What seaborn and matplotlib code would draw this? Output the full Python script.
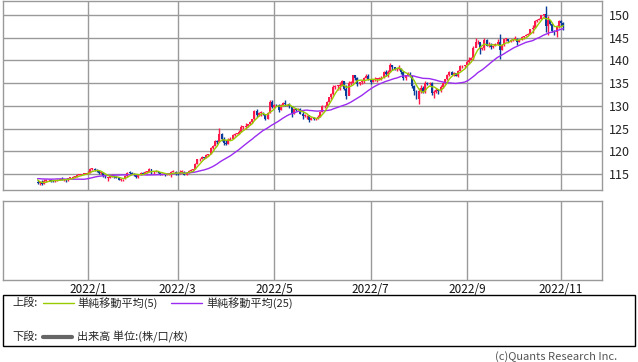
import numpy as np
import pandas as pd
import matplotlib
matplotlib.use("Agg")
import matplotlib.pyplot as plt
import seaborn as sns
from matplotlib.lines import Line2D
from matplotlib.patches import Rectangle

# closes before the window (only used for the moving averages)
pre_close = [113.6, 114.0, 114.0, 113.9, 114.1, 113.7, 113.4, 112.9, 112.8, 113.9,
             114.1, 113.9, 114.1, 114.8, 114.1, 114.3, 114.0, 114.9, 115.1, 115.4,
             115.4, 113.4, 113.6, 113.2]

# daily closes from 2021/12/1 (weekdays)
close = [
    # Dec (23)
    113.0, 113.2, 112.8, 113.5, 113.6, 113.7, 113.5, 113.4, 113.5, 113.7, 114.0, 113.7,
    113.7, 113.6, 114.1, 114.2, 114.4, 114.4, 114.8, 114.8, 115.0, 115.1, 115.1,
    # Jan (21)
    115.3, 116.1, 116.1, 115.8, 115.6, 115.2, 115.3, 114.6, 114.2, 114.2, 114.6,
    114.6, 114.3, 114.2, 113.7, 113.9, 113.9, 114.6, 115.3, 115.2, 115.1,
    # Feb (20)
    114.7, 114.4, 114.9, 115.2, 115.1, 115.5, 115.5, 116.0, 115.4, 115.6,
    115.6, 115.4, 114.9, 115.0, 114.8, 115.0, 115.0, 115.5, 115.5, 115.0,
    # Mar (23)
    114.9, 115.5, 115.5, 114.8, 115.3, 115.7, 115.9, 116.1, 117.3, 118.2, 118.3, 118.7,
    118.6, 119.2, 119.4, 120.8, 121.2, 122.3, 122.0, 123.8, 122.8, 121.8, 121.7,
    # Apr (21)
    122.5, 122.8, 123.6, 123.8, 123.9, 124.3, 125.4, 125.4, 125.6, 125.9, 126.4,
    127.0, 128.9, 127.9, 128.4, 128.5, 128.1, 127.2, 128.4, 130.8, 129.8,
    # May (22)
    130.2, 130.1, 129.1, 130.2, 130.6, 130.3, 130.4, 129.9, 128.3, 129.2, 129.1,
    129.4, 128.3, 127.8, 127.9, 127.9, 126.9, 127.3, 127.1, 127.1, 127.6, 128.7,
    # Jun (22)
    129.9, 129.9, 130.9, 131.9, 132.6, 134.2, 134.4, 134.4, 134.4, 135.5, 133.8,
    132.2, 135.0, 135.1, 136.7, 136.2, 134.9, 135.2, 135.4, 136.1, 136.6, 135.7,
    # Jul (21)
    135.2, 135.7, 135.9, 135.9, 136.0, 136.1, 137.4, 137.0, 137.4, 138.9, 138.5,
    138.2, 138.2, 138.2, 137.4, 136.1, 136.7, 137.0, 136.5, 134.3, 133.2,
    # Aug (23)
    131.6, 133.2, 133.9, 133.0, 135.0, 134.9, 135.1, 132.9, 133.0, 133.5, 133.3, 134.2,
    135.0, 135.9, 136.9, 137.5, 136.8, 137.2, 136.6, 137.6, 138.7, 138.7, 138.9,
    # Sep (22)
    139.7, 140.2, 140.5, 142.8, 144.0, 144.1, 142.6, 142.8, 144.6, 143.2, 143.5,
    142.9, 143.2, 143.7, 144.1, 142.4, 143.3, 144.7, 144.8, 144.2, 144.4, 144.7,
    # Oct (21)
    144.8, 144.1, 144.6, 145.1, 145.3, 145.7, 145.9, 146.9, 147.2, 148.7, 149.0,
    149.2, 149.9, 150.2, 147.6, 149.0, 148.0, 146.4, 146.3, 147.5, 148.7,
    # Nov (2)
    148.2, 147.6,
]

high = [
    113.6, 113.4, 113.6, 113.8, 113.9, 113.9, 113.8, 113.6, 113.7, 113.9, 114.2, 114.3,
    113.9, 113.8, 114.2, 114.3, 114.5, 114.5, 114.9, 114.9, 115.0, 115.2, 115.2,
    115.6, 116.3, 116.3, 116.3, 116.1, 115.8, 115.7, 115.4, 114.8, 114.4, 114.7,
    115.1, 114.8, 114.5, 114.3, 114.0, 114.0, 114.8, 115.5, 115.6, 115.4,
    115.2, 114.8, 115.0, 115.4, 115.4, 115.7, 115.6, 116.3, 116.0, 115.7,
    115.8, 115.7, 115.4, 115.2, 115.1, 115.2, 115.2, 115.7, 115.8, 115.6,
    115.2, 115.8, 115.8, 115.6, 115.5, 115.8, 116.0, 116.2, 117.4, 118.4, 118.5, 118.9,
    118.8, 119.4, 119.5, 121.0, 121.4, 122.4, 122.4, 125.1, 124.0, 123.2, 122.4,
    122.9, 123.1, 123.7, 124.0, 124.1, 124.6, 125.8, 125.6, 126.3, 126.0, 126.6,
    127.1, 129.0, 129.4, 128.7, 128.9, 128.6, 128.2, 128.6, 131.2, 131.3,
    130.5, 130.4, 130.4, 130.4, 130.8, 131.3, 130.5, 130.6, 130.0, 129.4, 129.6,
    129.5, 129.5, 128.9, 128.2, 128.0, 127.9, 127.5, 127.6, 127.4, 127.9, 128.8,
    130.1, 130.2, 131.0, 132.0, 132.9, 134.5, 134.6, 134.6, 135.2, 135.6, 135.5,
    134.7, 135.4, 135.4, 136.7, 136.7, 136.3, 135.3, 135.6, 136.4, 137.0, 137.0,
    135.9, 135.9, 136.4, 136.1, 136.3, 136.6, 137.7, 137.8, 137.9, 139.4, 139.1,
    138.6, 138.4, 138.9, 138.3, 137.6, 136.8, 137.5, 137.5, 136.6, 134.6,
    133.4, 133.9, 134.5, 134.3, 135.5, 135.3, 135.3, 135.2, 133.4, 133.9, 133.7, 134.6,
    135.3, 136.0, 137.0, 137.7, 137.7, 137.4, 137.2, 137.8, 139.0, 138.9, 139.1,
    140.0, 140.8, 140.8, 143.1, 145.0, 144.5, 143.9, 143.0, 145.0, 144.7, 144.0,
    143.8, 143.4, 143.9, 144.7, 145.9, 143.6, 144.8, 144.9, 144.8, 144.8, 144.8,
    145.4, 144.9, 144.8, 145.3, 145.4, 145.9, 146.0, 147.0, 147.7, 148.9, 149.1,
    149.4, 149.9, 150.3, 151.9, 149.7, 149.0, 148.0, 146.8, 147.8, 148.8,
    148.8, 148.4,
]

low = [
    112.7, 112.6, 112.5, 112.9, 113.3, 113.4, 113.3, 113.2, 113.3, 113.5, 113.6, 113.6,
    113.4, 113.2, 113.5, 114.0, 114.1, 114.3, 114.4, 114.7, 114.7, 114.9, 114.9,
    115.0, 115.2, 115.9, 115.7, 115.5, 115.0, 115.1, 114.4, 114.1, 113.5, 114.1,
    114.4, 114.1, 114.1, 113.6, 113.4, 113.5, 113.8, 114.4, 115.0, 114.9,
    114.6, 114.2, 114.1, 114.8, 115.0, 115.0, 115.3, 115.4, 115.0, 115.0,
    115.4, 115.3, 114.8, 114.8, 114.5, 114.7, 114.8, 114.4, 115.4, 114.8,
    114.7, 114.9, 115.3, 114.7, 114.7, 115.2, 115.6, 115.7, 116.0, 117.2, 117.9, 118.2,
    118.3, 118.5, 119.0, 119.3, 120.6, 121.1, 121.6, 122.0, 122.2, 121.3, 121.3,
    121.7, 122.4, 122.6, 123.3, 123.7, 123.8, 124.3, 125.0, 125.0, 125.4, 125.8,
    126.2, 126.9, 127.5, 127.8, 127.8, 127.9, 126.9, 127.1, 128.4, 129.6,
    129.6, 129.9, 128.6, 129.0, 130.0, 130.0, 129.9, 129.6, 127.5, 128.3, 128.8,
    129.0, 128.1, 127.0, 127.5, 127.1, 126.4, 126.9, 126.9, 126.9, 127.1, 127.5,
    128.7, 129.5, 129.8, 130.8, 131.6, 132.5, 133.7, 133.6, 133.6, 134.3, 133.5,
    131.5, 132.3, 134.5, 135.0, 135.8, 134.3, 134.6, 134.8, 135.1, 136.1, 135.6,
    134.8, 135.2, 135.5, 135.3, 135.6, 135.8, 136.1, 136.6, 136.4, 137.4, 137.9,
    137.9, 137.6, 137.9, 137.0, 135.6, 135.6, 136.5, 136.4, 134.0, 132.5,
    131.6, 130.4, 132.8, 132.9, 132.9, 134.7, 134.7, 132.4, 131.8, 132.9, 132.6, 133.1,
    133.9, 134.9, 135.8, 136.6, 136.7, 136.5, 136.5, 136.4, 137.7, 138.4, 138.4,
    138.9, 139.3, 140.1, 140.2, 142.9, 143.6, 141.5, 142.3, 142.3, 143.1, 143.0,
    142.6, 142.7, 143.2, 143.4, 140.3, 142.4, 143.1, 144.2, 144.0, 144.0, 144.3,
    144.6, 143.5, 144.0, 144.5, 144.7, 145.3, 145.5, 145.8, 146.1, 147.1, 148.4,
    148.8, 149.1, 149.6, 146.2, 145.6, 147.8, 146.2, 145.7, 145.1, 147.2,
    147.6, 146.6,
]

month_labels = ["2022/1", "2022/3", "2022/5", "2022/7", "2022/9", "2022/11"]
month_starts = ["2022-01-01", "2022-03-01", "2022-05-01", "2022-07-01", "2022-09-01", "2022-11-01"]

n = len(close)
dates = pd.bdate_range("2021-12-01", periods=n)
opens = [pre_close[-1]] + close[:-1]

all_close = pd.Series(pre_close + close)
ma5 = all_close.rolling(5).mean().iloc[len(pre_close):].to_numpy()
ma25 = all_close.rolling(25).mean().iloc[len(pre_close):].to_numpy()

df = pd.DataFrame({"x": np.arange(n), "open": opens, "close": close,
                   "high": high, "low": low, "ma5": ma5, "ma25": ma25})
df["up"] = df["close"] >= df["open"]

tick_pos = [int(np.searchsorted(dates, pd.Timestamp(m))) for m in month_starts]

sns.set_theme(style="white")
plt.rcParams['font.family'] = ['Noto Sans CJK JP', 'DejaVu Sans']

RED = "#FF1A4B"
BLUE = "#0A3C9C"
GRID = "#9A9A9A"

fig = plt.figure(figsize=(6.38, 3.62), dpi=100)
W, H = 638, 362
ax1 = fig.add_axes([3 / W, 1 - 190 / H, 599 / W, 189 / H])
ax2 = fig.add_axes([3 / W, 1 - 280 / H, 599 / W, 79 / H])

# candles
colors = np.where(df["up"], RED, BLUE)
ax1.vlines(df["x"], df["low"], df["high"], colors=colors, linewidth=1, zorder=3)
body_lo = np.minimum(df["open"], df["close"])
body_h = np.maximum(np.abs(df["close"] - df["open"]), 0.15)
ax1.bar(df["x"], body_h, bottom=body_lo, width=0.9, color=colors, linewidth=0, zorder=3)

sns.lineplot(data=df, x="x", y="ma25", ax=ax1, color="#9B2BF0", linewidth=1, zorder=4)
sns.lineplot(data=df, x="x", y="ma5", ax=ax1, color="#99CC00", linewidth=1, zorder=5)

xlim = (-15.8, 257.7)
for ax in (ax1, ax2):
    ax.set_xlim(*xlim)
    ax.set_xticks(tick_pos)
    ax.grid(False)
    for x in tick_pos:
        ax.axvline(x, color=GRID, linewidth=1, zorder=1)
    for s in ax.spines.values():
        s.set_color(GRID)
        s.set_linewidth(1)
    ax.set_xlabel("")
    ax.set_ylabel("")

ax1.set_ylim(111.48, 153.08)
ax1.set_yticks([115, 120, 125, 130, 135, 140, 145, 150])
for y in [115, 120, 125, 130, 135, 140, 145, 150]:
    ax1.axhline(y, color=GRID, linewidth=1, zorder=1)
ax1.yaxis.tick_right()
ax1.tick_params(axis="y", length=0, pad=5, labelsize=9, labelcolor="#222222")
ax1.tick_params(axis="x", length=0, labelbottom=False)

ax2.set_ylim(0, 1)
ax2.set_yticks([])
ax2.set_xticklabels(month_labels)
ax2.tick_params(axis="x", length=0, pad=2, labelsize=8.5, labelcolor="#111111")

# legend box
fig.patches.append(Rectangle((3 / W, 1 - 346 / H), 632 / W, 51 / H, transform=fig.transFigure,
                             fill=False, edgecolor="black", linewidth=1))
r1 = 1 - 303 / H
r2 = 1 - 337 / H
fig.text(12 / W, r1, "上段:", fontsize=8, va="center")
fig.add_artist(Line2D([43 / W, 74 / W], [r1, r1], color="#99CC00", linewidth=1))
fig.text(77 / W, r1, "単純移動平均(5)", fontsize=8, va="center")
fig.add_artist(Line2D([171 / W, 202 / W], [r1, r1], color="#9B2BF0", linewidth=1))
fig.text(206 / W, r1, "単純移動平均(25)", fontsize=8, va="center")
fig.text(12 / W, r2, "下段:", fontsize=8, va="center")
fig.add_artist(Line2D([43 / W, 72 / W], [r2, r2], color="#666666", linewidth=3))
fig.text(77 / W, r2, "出来高 単位:(株/口/枚)", fontsize=8, va="center")

fig.text(617 / W, 1 - 357 / H, "(c)Quants Research Inc.", fontsize=8, ha="right",
         va="center", color="#555555")

fig.savefig("out.png", dpi=100)
